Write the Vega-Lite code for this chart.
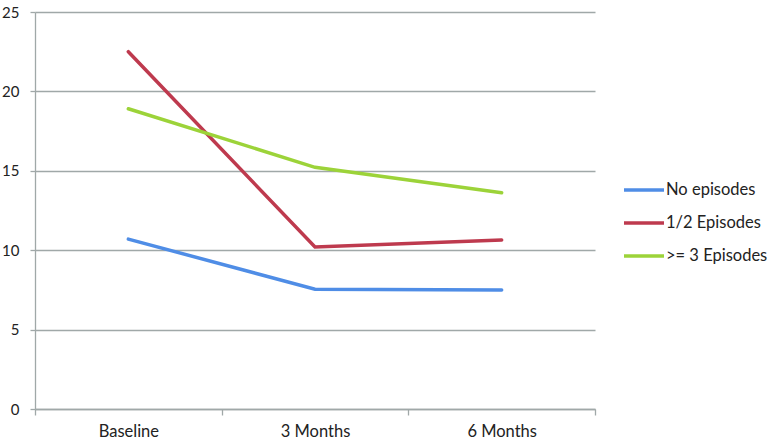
{
  "$schema": "https://vega.github.io/schema/vega-lite/v6.json",
  "width": 560,
  "height": 397,
  "autosize": {"type": "none"},
  "padding": {"left": 35, "top": 12, "right": 172, "bottom": 35},
  "background": "white",
  "config": {
    "view": {"stroke": null},
    "font": "Lato"
  },
  "data": {
    "values": [
      {"time": "Baseline", "group": "No episodes", "value": 10.7},
      {"time": "3 Months", "group": "No episodes", "value": 7.54},
      {"time": "6 Months", "group": "No episodes", "value": 7.49},
      {"time": "Baseline", "group": "1/2 Episodes", "value": 22.5},
      {"time": "3 Months", "group": "1/2 Episodes", "value": 10.2},
      {"time": "6 Months", "group": "1/2 Episodes", "value": 10.64},
      {"time": "Baseline", "group": ">= 3 Episodes", "value": 18.91},
      {"time": "3 Months", "group": ">= 3 Episodes", "value": 15.22},
      {"time": "6 Months", "group": ">= 3 Episodes", "value": 13.62}
    ]
  },
  "mark": {"type": "line", "strokeWidth": 3.5, "strokeCap": "round"},
  "encoding": {
    "x": {
      "field": "time",
      "type": "nominal",
      "sort": ["Baseline", "3 Months", "6 Months"],
      "bandPosition": 0.5,
      "scale": {"type": "band", "paddingInner": 0, "paddingOuter": 0},
      "axis": {
        "title": null,
        "labelAngle": 0,
        "tickBand": "extent",
        "tickSize": 6,
        "tickColor": "#A0A8A8",
        "tickWidth": 1.3,
        "domainColor": "#A0A8A8",
        "domainWidth": 1.3,
        "labelFontSize": 16.5,
        "labelColor": "#222222",
        "labelPadding": 8,
        "grid": false
      }
    },
    "y": {
      "field": "value",
      "type": "quantitative",
      "scale": {"domain": [0, 25], "nice": false},
      "axis": {
        "title": null,
        "values": [0, 5, 10, 15, 20, 25],
        "tickSize": 5,
        "tickColor": "#A0A8A8",
        "tickWidth": 1.3,
        "domainColor": "#A0A8A8",
        "domainWidth": 1.3,
        "gridColor": "#A0A8A8",
        "gridWidth": 1.3,
        "labelFontSize": 15,
        "labelColor": "#222222",
        "labelPadding": 11
      }
    },
    "color": {
      "field": "group",
      "type": "nominal",
      "scale": {
        "domain": ["No episodes", "1/2 Episodes", ">= 3 Episodes"],
        "range": ["#4F8DE6", "#BE3A4E", "#9CD339"]
      },
      "legend": {
        "title": null,
        "orient": "none",
        "legendX": 587,
        "legendY": 163,
        "symbolType": "stroke",
        "symbolSize": 1600,
        "symbolStrokeWidth": 3.5,
        "clipHeight": 30,
        "rowPadding": 3,
        "labelOffset": 0,
        "labelFontSize": 16.5,
        "labelColor": "#222222",
        "padding": 0
      }
    }
  }
}
